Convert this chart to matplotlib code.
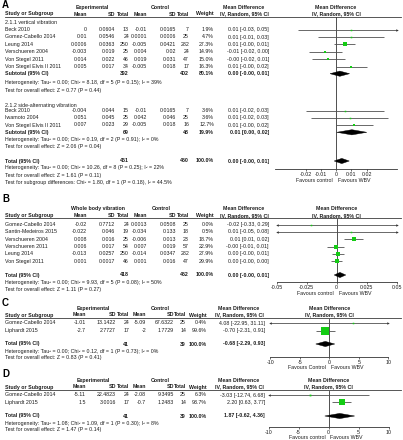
import math
import matplotlib
matplotlib.use("Agg")
import matplotlib.pyplot as plt
from matplotlib.patches import Polygon

plt.rcParams['font.family'] = ['Liberation Sans', 'DejaVu Sans']

# ======================= DATA =======================
# ---- Panel A : 2.1.1 vertical vibration ----
a1_study = ["Beck 2010", "Gomez-Cabello 2014", "Leung 2014", "Verschueren 2004",
            "Von Stegel 2011", "Von Stegel Elvis II 2011"]
a1_exp_mean = [0, 0.01, 0.0006, -0.003, 0.014, 0.005]
a1_exp_sd = [0.0604, 0.0546, 0.0363, 0.019, 0.022, 0.017]
a1_exp_n = [13, 24, 250, 25, 46, 34]
a1_ctl_mean = [-0.01, 0.0001, -0.005, 0.004, 0.019, -0.005]
a1_ctl_sd = [0.0165, 0.0006, 0.0421, 0.02, 0.031, 0.018]
a1_ctl_n = [7, 25, 282, 24, 47, 17]
a1_weight = [1.9, 4.7, 27.3, 14.9, 15.0, 16.3]
a1_md = [0.01, 0.0099, 0.0056, -0.007, -0.005, 0.01]
a1_lo = [-0.025, -0.012, -0.0011, -0.0179, -0.0159, -0.0003]
a1_hi = [0.045, 0.0317, 0.0123, 0.0039, 0.0059, 0.0203]
a1_ci = ["0.01 [-0.03, 0.05]", "0.01 [-0.01, 0.03]", "0.01 [-0.00, 0.01]",
         "-0.01 [-0.02, 0.00]", "-0.00 [-0.02, 0.01]", "0.01 [-0.00, 0.02]"]
a1_sub_n = [392, 402]
a1_sub_weight = 80.1
a1_sub_est = [0.0025, -0.0039, 0.0089]
a1_sub_ci = "0.00 [-0.00, 0.01]"
a1_het = "Heterogeneity: Tau² = 0.00; Chi² = 8.18, df = 5 (P = 0.15); I² = 39%"
a1_test = "Test for overall effect: Z = 0.77 (P = 0.44)"

# ---- Panel A : 2.1.2 side-alternating vibration ----
a2_study = ["Beck 2010", "Iwamoto 2004", "Von Stegel Elvis II 2011"]
a2_exp_mean = [-0.004, 0.051, 0.007]
a2_exp_sd = [0.044, 0.045, 0.023]
a2_exp_n = [15, 25, 29]
a2_ctl_mean = [-0.01, 0.042, -0.005]
a2_ctl_sd = [0.0165, 0.046, 0.018]
a2_ctl_n = [7, 25, 16]
a2_weight = [3.6, 3.6, 12.7]
a2_md = [0.006, 0.009, 0.012]
a2_lo = [-0.0194, -0.0162, -0.0002]
a2_hi = [0.0314, 0.0342, 0.0242]
a2_ci = ["0.01 [-0.02, 0.03]", "0.01 [-0.02, 0.03]", "0.01 [-0.00, 0.02]"]
a2_sub_n = [69, 48]
a2_sub_weight = 19.9
a2_sub_est = [0.0104, 0.0005, 0.0202]
a2_sub_ci = "0.01 [0.00, 0.02]"
a2_het = "Heterogeneity: Tau² = 0.00; Chi² = 0.19, df = 2 (P = 0.91); I² = 0%"
a2_test = "Test for overall effect: Z = 2.06 (P = 0.04)"

a_tot_n = [461, 450]
a_tot_weight = 100.0
a_tot_est = [0.0038, -0.0012, 0.0087]
a_tot_ci = "0.00 [-0.00, 0.01]"
a_tot_het = "Heterogeneity: Tau² = 0.00; Chi² = 10.26, df = 8 (P = 0.25); I² = 22%"
a_tot_test = "Test for overall effect: Z = 1.61 (P = 0.11)"
a_tot_sub = "Test for subgroup differences: Chi² = 1.80, df = 1 (P = 0.18), I² = 44.5%"
a_ticks = [-0.02, -0.01, 0, 0.01, 0.02]
a_ticklabels = ["-0.02", "-0.01", "0", "0.01", "0.02"]

# ---- Panel B ----
b_study = ["Gomez-Cabello 2014", "Santin-Medeiros 2015", "Verschueren 2004",
           "Verschueren 2011", "Leung 2014", "Von Stegel 2011"]
b_exp_mean = [-0.02, -0.022, 0.008, 0.006, -0.013, 0.001]
b_exp_sd = [0.7712, 0.046, 0.016, 0.017, 0.0257, 0.0017]
b_exp_n = [24, 19, 25, 54, 250, 46]
b_ctl_mean = [0.0013, -0.034, -0.006, 0.007, -0.014, 0.001]
b_ctl_sd = [0.0508, 0.133, 0.013, 0.019, 0.0347, 0.016]
b_ctl_n = [25, 18, 23, 57, 282, 47]
b_weight = [0.0, 0.5, 18.7, 22.9, 27.9, 29.9]
b_md = [-0.0213, 0.012, 0.014, -0.001, 0.001, 0.0]
b_lo = [-0.33, -0.053, 0.0058, -0.0077, -0.0042, -0.0046]
b_hi = [0.29, 0.077, 0.0222, 0.0057, 0.0062, 0.0046]
b_ci = ["-0.02 [-0.33, 0.29]", "0.01 [-0.05, 0.08]", "0.01 [0.01, 0.02]",
        "-0.00 [-0.01, 0.01]", "0.00 [-0.00, 0.01]", "0.00 [-0.00, 0.00]"]
b_tot_n = [418, 452]
b_tot_weight = 100.0
b_tot_est = [0.0027, -0.0021, 0.0076]
b_tot_ci = "0.00 [-0.00, 0.01]"
b_het = "Heterogeneity: Tau² = 0.00; Chi² = 9.93, df = 5 (P = 0.08); I² = 50%"
b_test = "Test for overall effect: Z = 1.11 (P = 0.27)"
b_ticks = [-0.05, -0.025, 0, 0.025, 0.05]
b_ticklabels = ["-0.05", "-0.025", "0", "0.025", "0.05"]

# ---- Panel C ----
c_study = ["Gomez-Cabello 2014", "Liphardt 2015"]
c_exp_mean = [-1.01, -2.7]
c_exp_sd = [13.1422, 2.7727]
c_exp_n = [24, 17]
c_ctl_mean = [-5.09, -2]
c_ctl_sd = [67.6322, 1.7729]
c_ctl_n = [25, 14]
c_weight = [0.4, 99.6]
c_md = [4.08, -0.70]
c_lo = [-22.95, -2.31]
c_hi = [31.11, 0.91]
c_ci = ["4.08 [-22.95, 31.11]", "-0.70 [-2.31, 0.91]"]
c_tot_n = [41, 39]
c_tot_weight = 100.0
c_tot_est = [-0.68, -2.29, 0.93]
c_tot_ci = "-0.68 [-2.29, 0.93]"
c_het = "Heterogeneity: Tau² = 0.00; Chi² = 0.12, df = 1 (P = 0.73); I² = 0%"
c_test = "Test for overall effect: Z = 0.83 (P = 0.41)"

# ---- Panel D ----
d_study = ["Gomez-Cabello 2014", "Liphardt 2015"]
d_exp_mean = [-5.11, 1.5]
d_exp_sd = [22.4823, 3.0016]
d_exp_n = [24, 17]
d_ctl_mean = [-2.08, -0.7]
d_ctl_sd = [9.3495, 1.2483]
d_ctl_n = [25, 14]
d_weight = [6.3, 93.7]
d_md = [-3.03, 2.20]
d_lo = [-12.74, 0.63]
d_hi = [6.68, 3.77]
d_ci = ["-3.03 [-12.74, 6.68]", "2.20 [0.63, 3.77]"]
d_tot_n = [41, 39]
d_tot_weight = 100.0
d_tot_est = [1.87, -0.62, 4.36]
d_tot_ci = "1.87 [-0.62, 4.36]"
d_het = "Heterogeneity: Tau² = 1.08; Chi² = 1.09, df = 1 (P = 0.30); I² = 8%"
d_test = "Test for overall effect: Z = 1.47 (P = 0.14)"
cd_ticks = [-10, -5, 0, 5, 10]
cd_ticklabels = ["-10", "-5", "0", "5", "10"]

# ======================= STYLE / LAYOUT =======================
W, H = 403, 440
FS = 3.75
TXT = '#1c1c1c'
GREEN = '#14cc14'
CILINE = '#505050'

fig = plt.figure(figsize=(W / 100, H / 100), dpi=100)
ax0 = fig.add_axes([0, 0, 1, 1])
ax0.set_xlim(0, W)
ax0.set_ylim(H, 0)
ax0.axis('off')


def t(x, y, s, ha='left', bold=False, size=FS, color=TXT):
    ax0.text(x, y, s, ha=ha, va='center', fontsize=size,
             fontweight='bold' if bold else 'normal', color=color)


def fmt(v):
    return f"{v:g}"


def header(y1, y2, yline, grp, cols, xexp, xctl, xci, xplot):
    t(xexp, y1, grp, 'center', bold=True)
    t(xctl, y1, 'Control', 'center', bold=True)
    t(xci, y1, 'Mean Difference', 'center', bold=True)
    t(xplot, y1, 'Mean Difference', 'center', bold=True)
    t(5, y2, 'Study or Subgroup', bold=True)
    for c, s in zip(cols[:7], ['Mean', 'SD', 'Total', 'Mean', 'SD', 'Total', 'Weight']):
        t(c, y2, s, 'right', bold=True)
    t(xci, y2, 'IV, Random, 95% CI', 'center', bold=True)
    t(xplot, y2, 'IV, Random, 95% CI', 'center', bold=True)
    ax0.plot([5, 401], [yline, yline], color='#3a3a3a', lw=0.6)


def table_rows(ys, names, em, esd, en, cm, csd, cn, w, ci, cols):
    for i, y in enumerate(ys):
        t(5, y, names[i])
        t(cols[0], y, fmt(em[i]), 'right')
        t(cols[1], y, fmt(esd[i]), 'right')
        t(cols[2], y, str(en[i]), 'right')
        t(cols[3], y, fmt(cm[i]), 'right')
        t(cols[4], y, fmt(csd[i]), 'right')
        t(cols[5], y, str(cn[i]), 'right')
        t(cols[6], y, f"{w[i]:.1f}%", 'right')
        t(cols[7], y, ci[i], 'right')


def total_row(y, label, n, w, ci, cols):
    t(5, y, label, bold=True)
    t(cols[2], y, str(n[0]), 'right', bold=True)
    t(cols[5], y, str(n[1]), 'right', bold=True)
    t(cols[6], y, f"{w:.1f}%", 'right', bold=True)
    t(cols[7], y, ci, 'right', bold=True)


def forest(x0, x1, ytop, yaxis, xlim, ticks, ticklabels, fav_y, fav_left='Favours control'):
    ax = fig.add_axes([x0 / W, 1 - yaxis / H, (x1 - x0) / W, (yaxis - ytop) / H])
    ax.set_xlim(*xlim)
    ax.set_ylim(yaxis, ytop)
    ax.patch.set_alpha(0)
    for s in ['top', 'left', 'right']:
        ax.spines[s].set_visible(False)
    ax.spines['bottom'].set_linewidth(0.6)
    ax.spines['bottom'].set_color('#333333')
    ax.set_yticks([])
    ax.set_xticks(ticks)
    ax.set_xticklabels(ticklabels, fontsize=FS, color=TXT)
    ax.tick_params(axis='x', length=1.6, width=0.5, pad=0.6, color='#333333')
    ax.axvline(0, color='#333333', lw=0.6)
    zero_px = x0 + (0 - xlim[0]) / (xlim[1] - xlim[0]) * (x1 - x0)
    t(zero_px - 3, fav_y, fav_left, 'right')
    t(zero_px + 2, fav_y, 'Favours WBV')
    return ax


def study_marks(ax, ys, md, lo, hi, w):
    xmin, xmax = ax.get_xlim()
    for y, m, l, h, ww in zip(ys, md, lo, hi, w):
        ax.plot([max(l, xmin), min(h, xmax)], [y, y], color=CILINE, lw=0.6,
                solid_capstyle='butt', clip_on=False)
        if h > xmax:
            ax.plot([xmax], [y], marker='>', ms=1.8, color='#333333', mew=0, clip_on=False)
        if l < xmin:
            ax.plot([xmin], [y], marker='<', ms=1.8, color='#333333', mew=0, clip_on=False)
        side_px = max(1.5, 0.72 * math.sqrt(ww))
        ax.plot([m], [y], marker='s', ms=side_px * 0.72, color=GREEN, mew=0,
                zorder=4, clip_on=False)


def diamond(ax, y, est, h=2.6):
    m, l, hi = est
    ax.add_patch(Polygon([(l, y), (m, y - h), (hi, y), (m, y + h)], closed=True,
                         fc='black', ec='black', lw=0.3, zorder=5))


colsAB = [87, 115, 129, 147, 176, 189, 214, 269]
colsCD = [86, 116, 129, 146, 174, 186, 207, 265]

# ---------------- Panel A ----------------
t(2, 4.5, 'A', bold=True, size=7, color='black')
header(7.5, 14, 17, 'Experimental', colsAB, 92, 160, 244, 336)
t(5, 22.3, '2.1.1 vertical vibration')
a1_y = [29.7, 37.0, 44.3, 51.8, 59.2, 66.5]
table_rows(a1_y, a1_study, a1_exp_mean, a1_exp_sd, a1_exp_n, a1_ctl_mean, a1_ctl_sd,
           a1_ctl_n, a1_weight, a1_ci, colsAB)
total_row(73.7, 'Subtotal (95% CI)', a1_sub_n, a1_sub_weight, a1_sub_ci, colsAB)
t(5, 82.8, a1_het)
t(5, 90.3, a1_test)
t(5, 105.0, '2.1.2 side-alternating vibration')
a2_y = [110.5, 117.7, 125.0]
table_rows(a2_y, a2_study, a2_exp_mean, a2_exp_sd, a2_exp_n, a2_ctl_mean, a2_ctl_sd,
           a2_ctl_n, a2_weight, a2_ci, colsAB)
total_row(132.3, 'Subtotal (95% CI)', a2_sub_n, a2_sub_weight, a2_sub_ci, colsAB)
t(5, 139.3, a2_het)
t(5, 146.6, a2_test)
total_row(161, 'Total (95% CI)', a_tot_n, a_tot_weight, a_tot_ci, colsAB)
t(5, 168, a_tot_het)
t(5, 175.2, a_tot_test)
t(5, 182.4, a_tot_sub)

axA = forest(275, 397, 17, 169, (-0.04, 0.04), a_ticks, a_ticklabels, 180.5)
study_marks(axA, a1_y, a1_md, a1_lo, a1_hi, a1_weight)
diamond(axA, 73.7, a1_sub_est)
study_marks(axA, a2_y, a2_md, a2_lo, a2_hi, a2_weight)
diamond(axA, 132.3, a2_sub_est)
diamond(axA, 161, a_tot_est)

# ---------------- Panel B ----------------
t(2, 199.5, 'B', bold=True, size=7, color='black')
header(208.3, 215.3, 218.5, 'Whole body vibration', colsAB, 98, 161, 244, 336.7)
b_y = [224.6, 231.9, 239.2, 246.5, 253.9, 261.3]
table_rows(b_y, b_study, b_exp_mean, b_exp_sd, b_exp_n, b_ctl_mean, b_ctl_sd,
           b_ctl_n, b_weight, b_ci, colsAB)
total_row(275, 'Total (95% CI)', b_tot_n, b_tot_weight, b_tot_ci, colsAB)
t(5, 282.2, b_het)
t(5, 289.5, b_test)

axB = forest(276.7, 396.7, 218.5, 282, (-0.05, 0.05), b_ticks, b_ticklabels, 293.5)
study_marks(axB, b_y, b_md, b_lo, b_hi, b_weight)
diamond(axB, 275, b_tot_est)

# ---------------- Panel C ----------------
t(2, 302.5, 'C', bold=True, size=7, color='black')
header(308.5, 315, 318.5, 'Experimental', colsCD, 93, 160, 239, 329.3)
c_y = [323, 330.5]
table_rows(c_y, c_study, c_exp_mean, c_exp_sd, c_exp_n, c_ctl_mean, c_ctl_sd,
           c_ctl_n, c_weight, c_ci, colsCD)
total_row(344, 'Total (95% CI)', c_tot_n, c_tot_weight, c_tot_ci, colsCD)
t(5, 351, c_het)
t(5, 357.8, c_test)

axC = forest(270.3, 388.3, 318.5, 356.5, (-10, 10), cd_ticks, cd_ticklabels, 367.8,
             fav_left='Favours Control')
study_marks(axC, c_y, c_md, c_lo, c_hi, c_weight)
diamond(axC, 344, c_tot_est)

# ---------------- Panel D ----------------
t(2, 374, 'D', bold=True, size=7, color='black')
header(380.5, 387, 390.5, 'Experimental', colsCD, 93, 160, 239, 328.5)
d_y = [395, 402.3]
table_rows(d_y, d_study, d_exp_mean, d_exp_sd, d_exp_n, d_ctl_mean, d_ctl_sd,
           d_ctl_n, d_weight, d_ci, colsCD)
total_row(416, 'Total (95% CI)', d_tot_n, d_tot_weight, d_tot_ci, colsCD)
t(5, 423, d_het)
t(5, 430, d_test)

axD = forest(268.5, 388.5, 390.5, 426.5, (-10, 10), cd_ticks, cd_ticklabels, 437.8)
study_marks(axD, d_y, d_md, d_lo, d_hi, d_weight)
diamond(axD, 416, d_tot_est)

fig.savefig('out.png', dpi=100, facecolor='white')
